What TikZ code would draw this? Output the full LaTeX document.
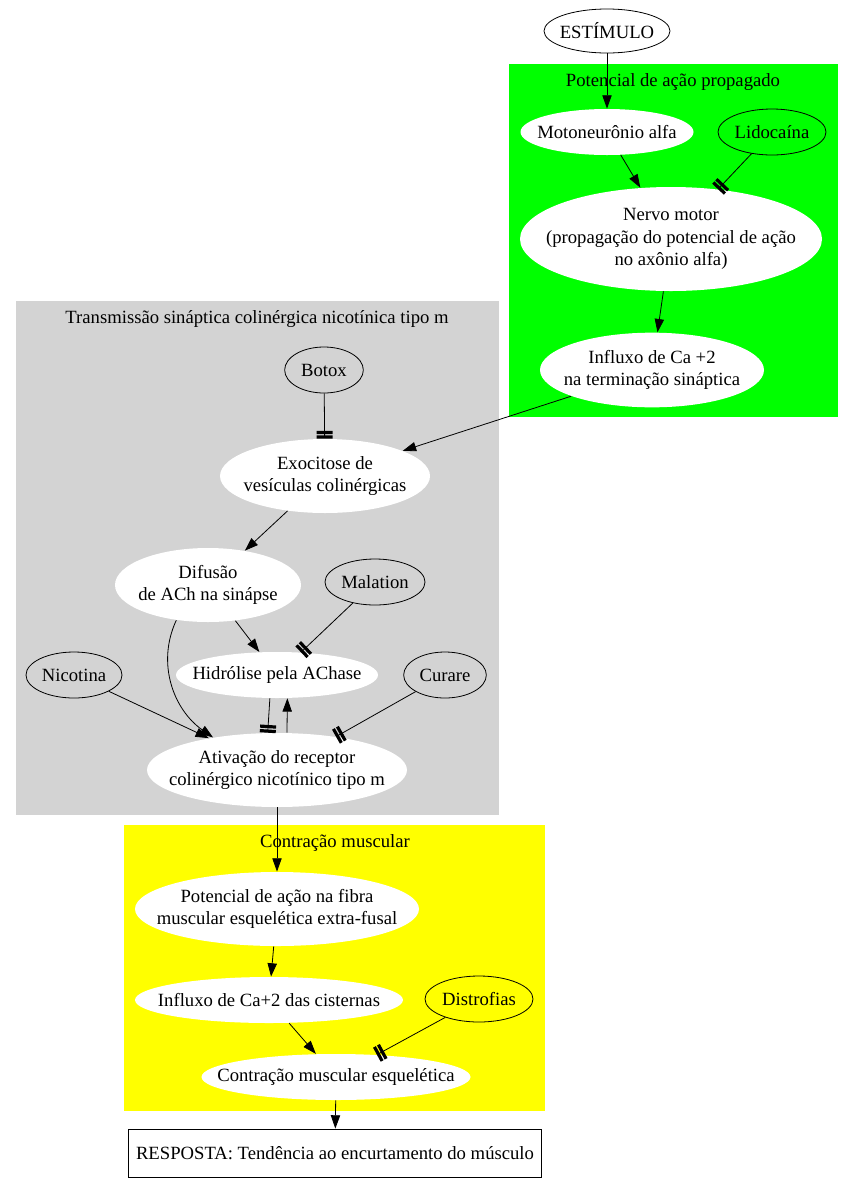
\documentclass[tikz,border=0pt]{standalone}
\usepackage{fontspec}
\setmainfont{Liberation Serif}
\usetikzlibrary{arrows.meta,shapes.geometric}
\definecolor{cinza}{HTML}{D3D3D3}
\definecolor{verde}{HTML}{00FF00}
\definecolor{amarelo}{HTML}{FFFF00}

\begin{document}
\begin{tikzpicture}[->,>={Triangle[length=10pt,width=7pt]},x=0.75pt,y=-0.75pt,
        line width=0.6pt,font=\fontsize{14pt}{17pt}\selectfont,
        etapa/.style={ellipse,fill=white,inner xsep=-20pt,inner ysep=-10pt,align=center},
        droga/.style={ellipse,draw,inner xsep=-20pt,inner ysep=-10pt},
        inibe/.style={-{Bar[width=12pt,line width=2.4pt,sep=1pt]Bar[width=12pt,line width=2.4pt]}}]

    \useasboundingbox (0,0) rectangle (853,1193);

    \fill[verde] (509,64) rectangle (838,417);
    \fill[cinza] (16,301) rectangle (499,815);
    \fill[amarelo] (124,825) rectangle (545,1111);

    \node (rotPot) at (673,82) {Potencial de ação propagado};
    \node (rotTrans) at (257,319) {Transmissão sináptica colinérgica nicotínica tipo m};
    \node (rotContr) at (335,843) {Contração muscular};

    \node[droga,minimum width=94.5pt,minimum height=33pt] (est) at (607,31) {ESTÍMULO};
    \node[etapa,minimum width=129.75pt,minimum height=34.5pt] (mot) at (607,132) {Motoneurônio alfa};
    \node[droga,minimum width=81pt,minimum height=34.5pt] (lido) at (772,132) {Lidocaína};
    \node[etapa,minimum width=226.5pt,minimum height=78pt] (nervo) at (671,239) {Nervo motor\\(propagação do potencial de ação\\no axônio alfa)};
    \node[etapa,minimum width=168pt,minimum height=56pt] (influxo) at (652,370) {Influxo de Ca +2\\na terminação sináptica};

    \node[droga,minimum width=59pt,minimum height=34.5pt] (botox) at (324,370) {Botox};
    \node[etapa,minimum width=157.5pt,minimum height=55.5pt] (exo) at (325,476) {Exocitose de\\vesículas colinérgicas};
    \node[etapa,minimum width=139.5pt,minimum height=55.5pt] (dif) at (208,585) {Difusão\\de ACh na sinápse};
    \node[droga,minimum width=75pt,minimum height=34.5pt] (mal) at (375,582) {Malation};
    \node[etapa,minimum width=151.5pt,minimum height=34.5pt] (hid) at (277,675) {Hidrólise pela AChase};
    \node[droga,minimum width=72pt,minimum height=34.5pt] (nico) at (74,675) {Nicotina};
    \node[droga,minimum width=62pt,minimum height=34.5pt] (cur) at (445,675) {Curare};
    \node[etapa,minimum width=195pt,minimum height=55.5pt] (ati) at (277,770) {Ativação do receptor\\colinérgico nicotínico tipo m};

    \node[etapa,minimum width=213pt,minimum height=55.5pt] (potfib) at (277,909) {Potencial de ação na fibra\\muscular esquelética extra-fusal};
    \node[etapa,minimum width=201pt,minimum height=34.5pt] (cist) at (269,1000) {Influxo de Ca+2 das cisternas};
    \node[droga,minimum width=81pt,minimum height=34.5pt] (dist) at (479,999) {Distrofias};
    \node[etapa,minimum width=201.75pt,minimum height=34.5pt] (contr) at (336,1077) {Contração muscular esquelética};
    \node[draw,minimum width=309.75pt,minimum height=36pt] (resp) at (335,1153) {RESPOSTA: Tendência ao encurtamento do músculo};

    \path (est) edge (mot);
    \path (mot) edge (nervo);
    \path (lido) edge[inibe] (nervo);
    \path (nervo) edge (influxo);
    \path (influxo) edge (exo);
    \path (botox) edge[inibe] (exo);
    \path (exo) edge (dif);
    \path (dif) edge (hid);
    \path (mal) edge[inibe] (hid);
    \path (dif.-132) edge[out=-115,in=145] (ati.153);
    \path (nico) edge (ati);
    \path (hid.-107) edge[inibe] (ati.104);
    \path (ati.75) edge (hid.-66);
    \path (cur) edge[inibe] (ati);
    \path (ati) edge (potfib);
    \path (potfib) edge (cist);
    \path (cist) edge (contr);
    \path (dist) edge[inibe] (contr);
    \path (contr) edge (resp);

    \end{tikzpicture}
\end{document}
